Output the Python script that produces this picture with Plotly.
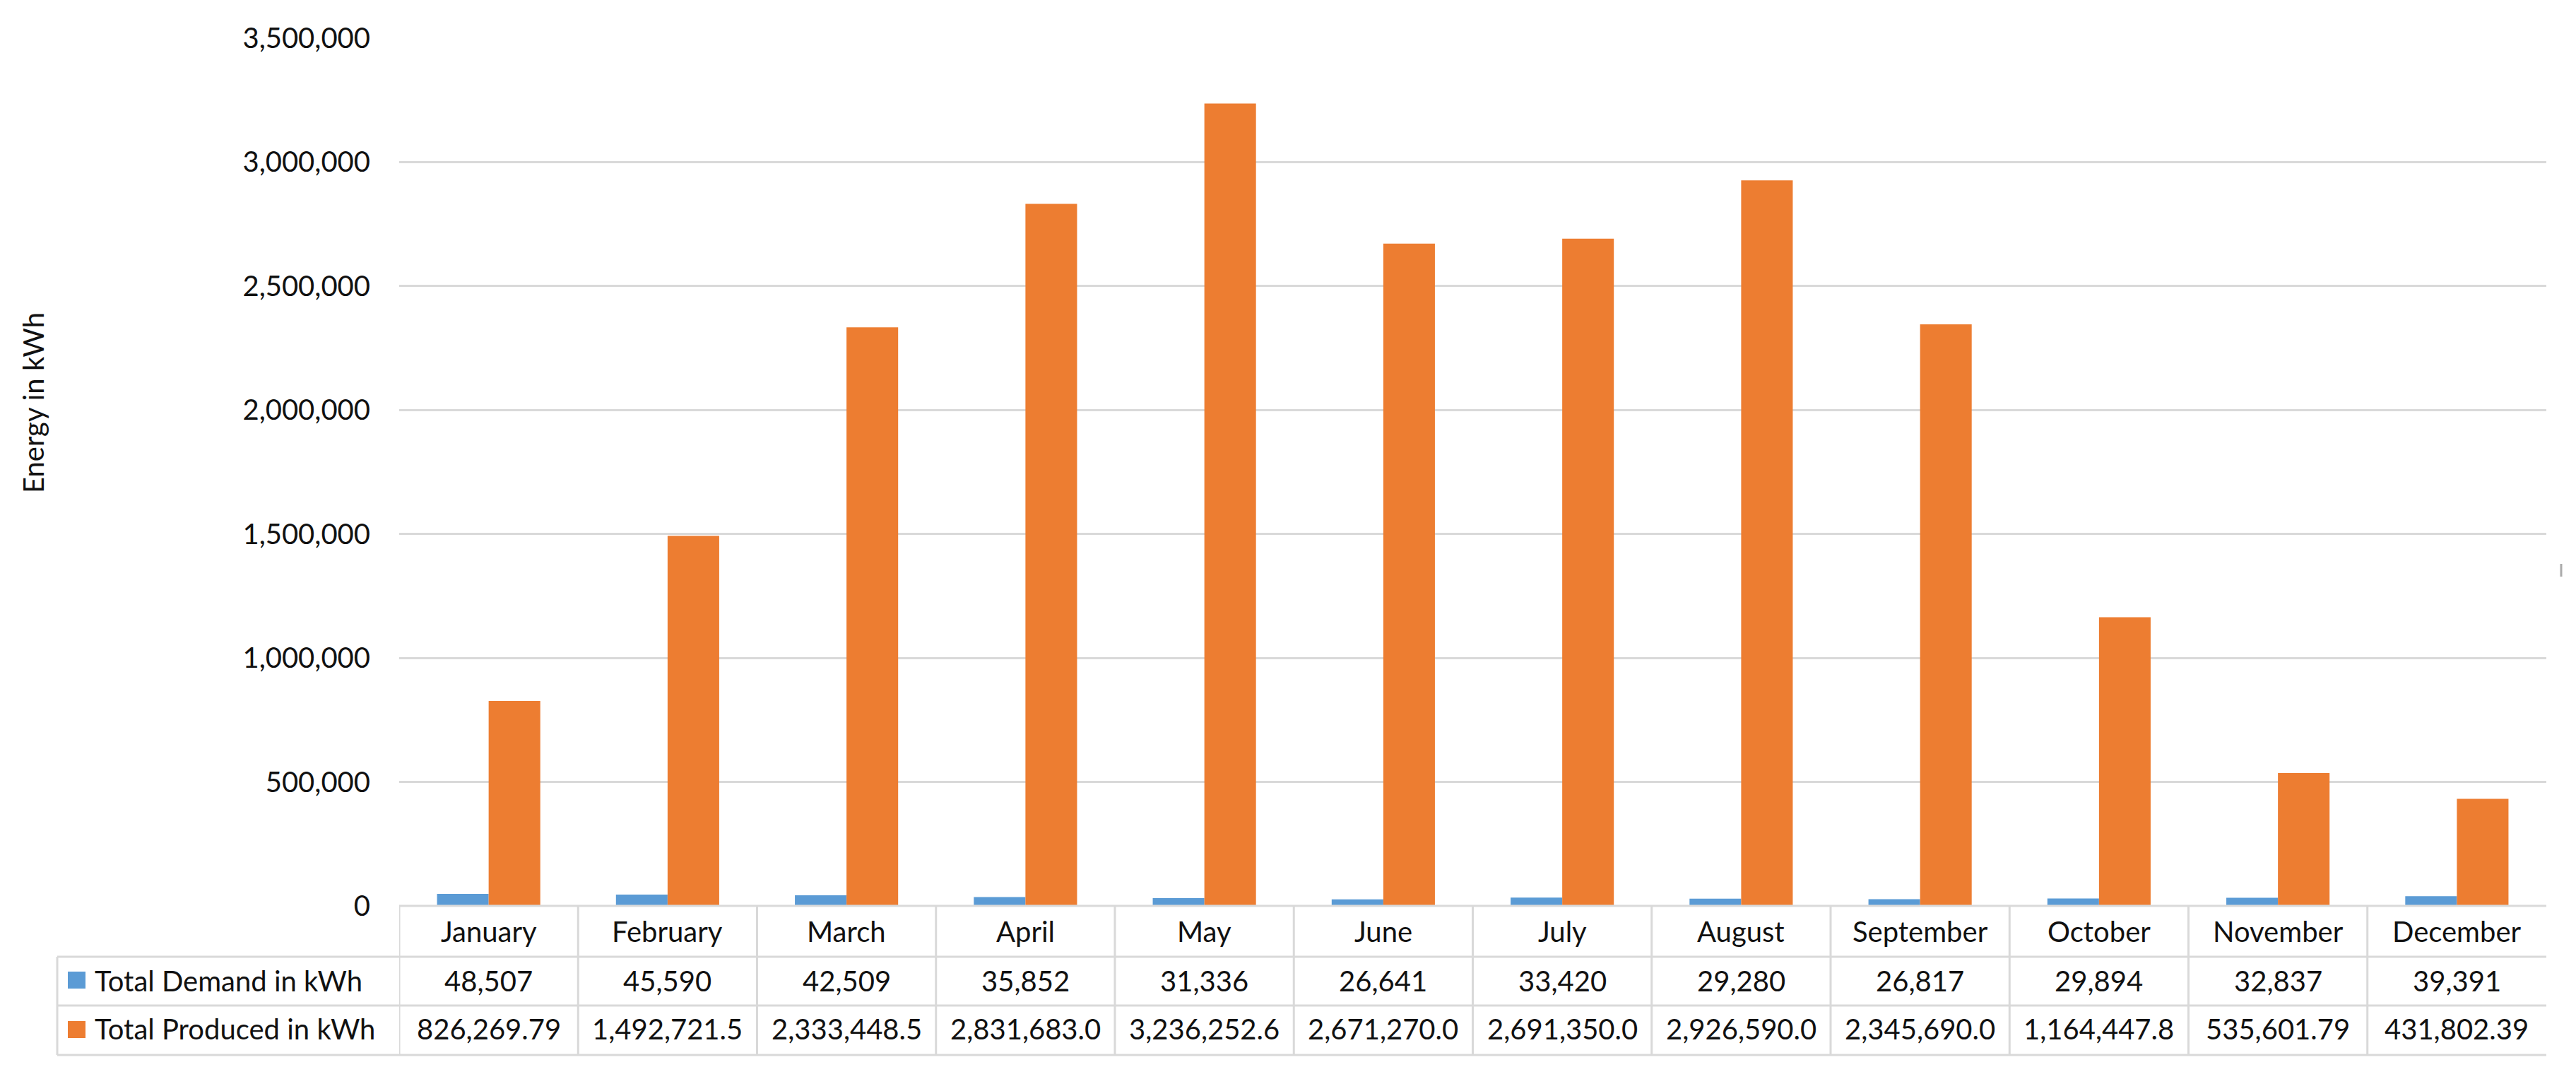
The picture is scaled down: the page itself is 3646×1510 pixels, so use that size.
import plotly.graph_objects as go

months = ["January", "February", "March", "April", "May", "June",
          "July", "August", "September", "October", "November", "December"]
demand = [48507, 45590, 42509, 35852, 31336, 26641, 33420, 29280, 26817, 29894, 32837, 39391]
produced = [826269.79, 1492721.5, 2333448.5, 2831683.0, 3236252.6, 2671270.0,
            2691350.0, 2926590.0, 2345690.0, 1164447.8, 535601.79, 431802.39]
demand_labels = ["48,507", "45,590", "42,509", "35,852", "31,336", "26,641",
                 "33,420", "29,280", "26,817", "29,894", "32,837", "39,391"]
produced_labels = ["826,269.79", "1,492,721.5", "2,333,448.5", "2,831,683.0", "3,236,252.6",
                   "2,671,270.0", "2,691,350.0", "2,926,590.0", "2,345,690.0", "1,164,447.8",
                   "535,601.79", "431,802.39"]
series_names = ["Total Demand in kWh", "Total Produced in kWh"]
y_title = "Energy in kWh"

BLUE = "#5B9BD5"
ORANGE = "#ED7D31"
GRID = "#D9D9D9"
TXT = "#111111"
FONT = "Lato"
FS = 40

W, H = 3646, 1510
L, R, T, B = 557, 50, 46, 236
PH = H - T - B
PW = W - L - R


def py(y):
    return (H - B - y) / PH


def px(x):
    return (x - L) / PW


fig = go.Figure()
fig.add_trace(go.Bar(x=months, y=demand, name=series_names[0], marker_color=BLUE,
                     marker_line_width=0))
fig.add_trace(go.Bar(x=months, y=produced, name=series_names[1], marker_color=ORANGE,
                     marker_line_width=0))

shapes = []
line = dict(color=GRID, width=3)
# horizontal table lines
shapes.append(dict(type="line", xref="paper", yref="paper", x0=0, x1=1, y0=py(1274), y1=py(1274), line=line))
for yy in [1346, 1415, 1485]:
    shapes.append(dict(type="line", xref="paper", yref="paper", x0=px(73), x1=1, y0=py(yy), y1=py(yy), line=line))
# left border of legend column
shapes.append(dict(type="line", xref="paper", yref="paper", x0=px(73), x1=px(73), y0=py(1346), y1=py(1485), line=line))
# vertical cell borders
for i in range(len(months)):
    shapes.append(dict(type="line", xref="x", yref="paper", x0=i - 0.5, x1=i - 0.5,
                       y0=py(1274), y1=py(1485), line=line))
# legend swatches
shapes.append(dict(type="rect", xref="paper", yref="paper", x0=px(88), x1=px(113),
                   y0=py(1367), y1=py(1391), fillcolor=BLUE, line=dict(width=0)))
shapes.append(dict(type="rect", xref="paper", yref="paper", x0=px(88), x1=px(113),
                   y0=py(1437), y1=py(1461), fillcolor=ORANGE, line=dict(width=0)))
# small grey tick mark at the right edge (present in the original image)
shapes.append(dict(type="line", xref="paper", yref="paper", x0=px(3617), x1=px(3617),
                   y0=py(790), y1=py(808), line=dict(color="#AAAAAA", width=3)))

ann = []
font = dict(family=FONT, size=FS, color=TXT)
for i, m in enumerate(months):
    ann.append(dict(x=m, xref="x", y=py(1310), yref="paper", text=m, showarrow=False,
                    xanchor="center", yanchor="middle", font=font))
    ann.append(dict(x=m, xref="x", y=py(1380), yref="paper", text=demand_labels[i], showarrow=False,
                    xanchor="center", yanchor="middle", font=font))
    ann.append(dict(x=m, xref="x", y=py(1448), yref="paper", text=produced_labels[i], showarrow=False,
                    xanchor="center", yanchor="middle", font=font))
ann.append(dict(x=px(124), xref="paper", y=py(1380), yref="paper", text=series_names[0], showarrow=False,
                xanchor="left", yanchor="middle", font=font))
ann.append(dict(x=px(124), xref="paper", y=py(1448), yref="paper", text=series_names[1], showarrow=False,
                xanchor="left", yanchor="middle", font=font))
ann.append(dict(x=px(39), xref="paper", y=py(562), yref="paper", text=y_title, showarrow=False,
                textangle=-90, xanchor="center", yanchor="middle", font=font))

fig.update_layout(
    width=W, height=H,
    margin=dict(l=L, r=R, t=T, b=B, pad=0),
    paper_bgcolor="white", plot_bgcolor="white",
    barmode="group", bargap=0.423, bargroupgap=0,
    showlegend=False,
    font=dict(family=FONT, size=FS, color=TXT),
    shapes=shapes, annotations=ann,
    xaxis=dict(type="category", range=[-0.5, 11.5], showticklabels=False, showgrid=False,
               zeroline=False, showline=False, ticks=""),
    yaxis=dict(range=[0, 3500000], dtick=500000, tickformat=",", showgrid=True,
               gridcolor=GRID, gridwidth=3, zeroline=False, showline=False, ticks="",
               ticklabelstandoff=40, tickfont=dict(family=FONT, size=FS, color=TXT)),
)

fig.write_html("out.html")
